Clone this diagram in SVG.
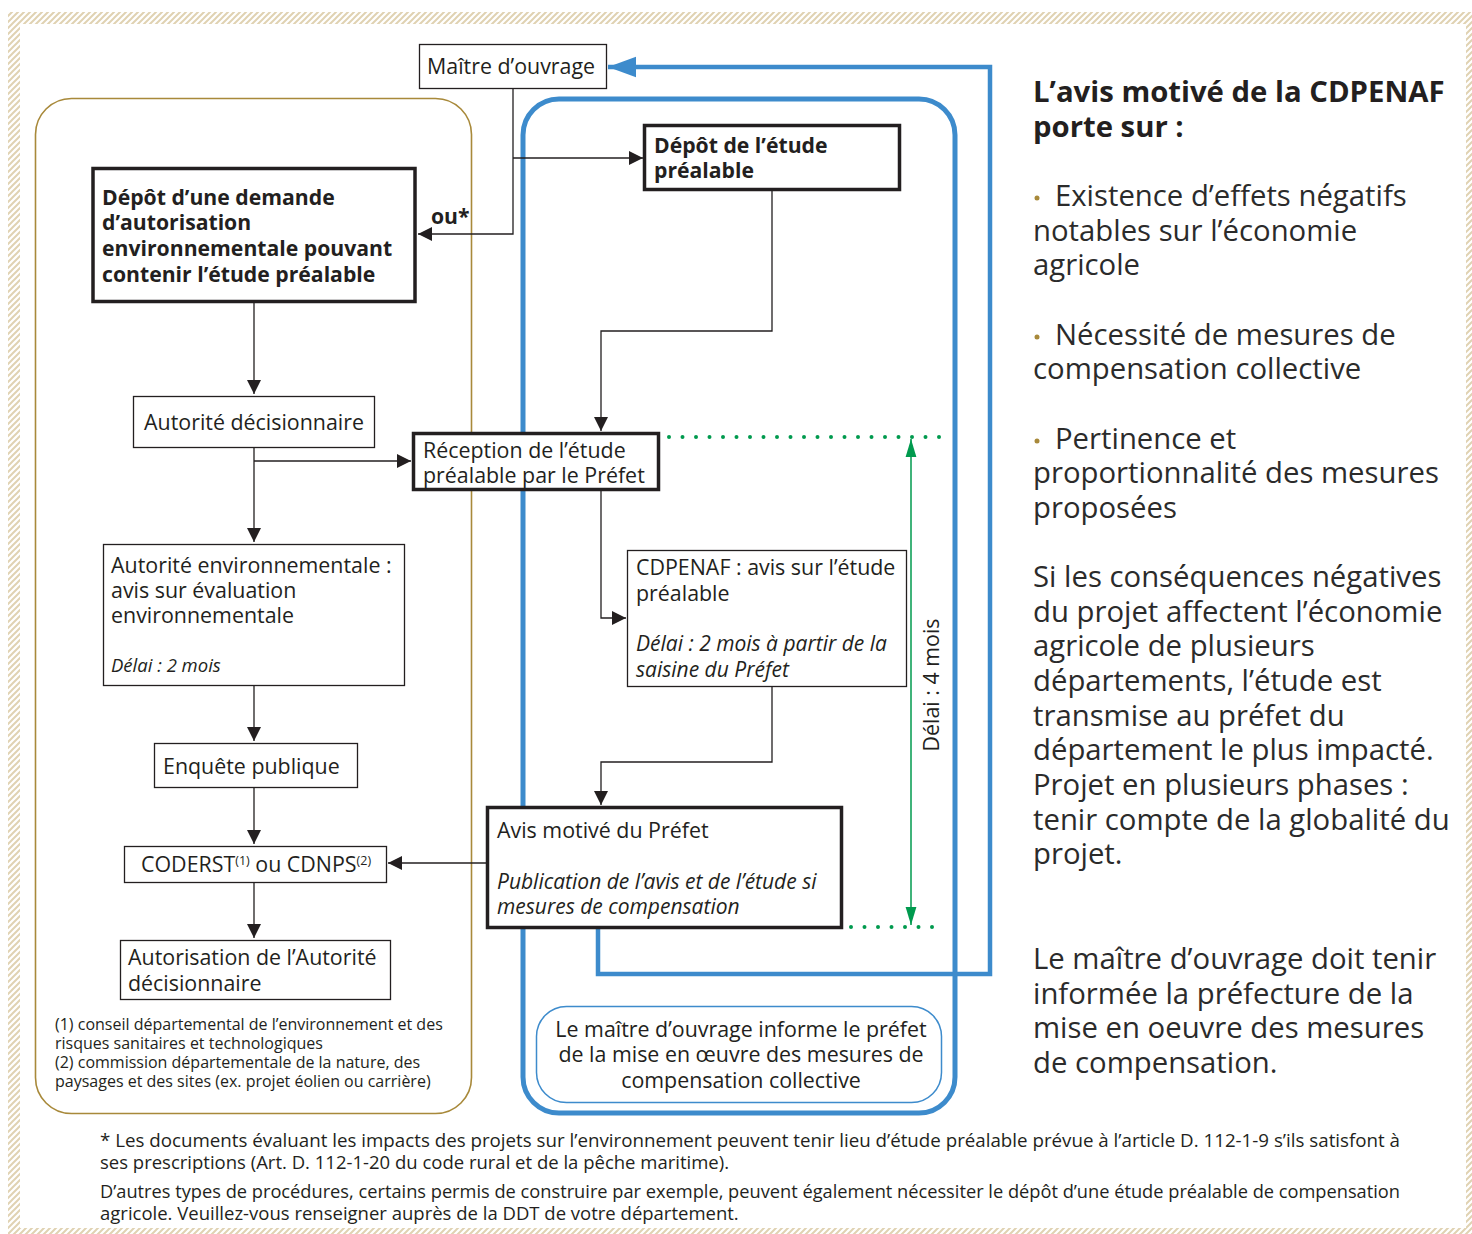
<svg xmlns="http://www.w3.org/2000/svg" width="1472" height="1234" viewBox="0 0 1472 1234">
<defs>
<pattern id="hatch" patternUnits="userSpaceOnUse" width="6" height="6">
<path d="M-1,7 L7,-1 M-4,4 L4,-4 M2,10 L10,2" stroke="#e0d2b2" stroke-width="2"/>
</pattern>
<marker id="ah" viewBox="0 0 10 10" refX="10" refY="5" markerWidth="14" markerHeight="14" markerUnits="userSpaceOnUse" orient="auto">
<path d="M0,0 L10,5 L0,10 Z" fill="#231f20"/>
</marker>
<marker id="ag" viewBox="0 0 10 10" refX="10" refY="5" markerWidth="18" markerHeight="18" markerUnits="userSpaceOnUse" orient="auto">
<path d="M0,2 L10,5 L0,8 Z" fill="#009a4e"/>
</marker>
<marker id="ab" viewBox="0 0 10 10" refX="10" refY="5" markerWidth="28" markerHeight="28" markerUnits="userSpaceOnUse" orient="auto">
<path d="M0,1.3 L10,5 L0,8.7 Z" fill="#3d8bcc"/>
</marker>
</defs>
<style>
text{font-family:"Open Sans","Noto Sans","Liberation Sans",sans-serif;fill:#231f20}
.t20{font-size:21.4px}
.b20{font-size:21.2px;font-weight:bold}
.i18{font-size:21px;font-style:italic}
.i17{font-size:18.5px;font-style:italic}
.s15{font-size:16px}
.s17{font-size:18.5px}
.r28{font-size:29.3px;fill:#2b2b2b}
.rb{font-size:29.3px;font-weight:bold;fill:#231f20}
.dot{fill:#a8893a}
.thin{fill:#fff;stroke:#231f20;stroke-width:1.3}
.thick{fill:#fff;stroke:#231f20;stroke-width:3.5}
.ln{fill:none;stroke:#231f20;stroke-width:1.3}
</style>
<rect width="1472" height="1234" fill="#fff"/>
<path d="M8,12 H1472 V1234 H8 Z M20,24 V1228 H1466 V24 Z" fill="url(#hatch)" fill-rule="evenodd"/>

<g id="groupes">
<rect x="35.5" y="98.5" width="436" height="1015" rx="36" fill="none" stroke="#a8893a" stroke-width="1.6"/>
<rect x="523" y="99" width="432" height="1014" rx="36" fill="none" stroke="#3d8bcc" stroke-width="5"/>
</g>

<g id="connecteurs">
<path class="ln" d="M513,88 V234 H418" marker-end="url(#ah)"/>
<path class="ln" d="M513,158 H643" marker-end="url(#ah)"/>
<path class="ln" d="M772,190 V331 H601 V431" marker-end="url(#ah)"/>
<path class="ln" d="M254,302 V394" marker-end="url(#ah)"/>
<path class="ln" d="M254,448 V542" marker-end="url(#ah)"/>
<path class="ln" d="M254,461 H411" marker-end="url(#ah)"/>
<path class="ln" d="M601,491 V618 H626" marker-end="url(#ah)"/>
<path class="ln" d="M772,686 V762 H601 V805" marker-end="url(#ah)"/>
<path class="ln" d="M254,686 V741" marker-end="url(#ah)"/>
<path class="ln" d="M254,788 V844" marker-end="url(#ah)"/>
<path class="ln" d="M254,882 V938" marker-end="url(#ah)"/>
<path class="ln" d="M487,863 H388" marker-end="url(#ah)"/>
<path d="M598,928 V974 H990 V67 H608" fill="none" stroke="#3d8bcc" stroke-width="4.5" marker-end="url(#ab)"/>
<path d="M669,437 H940" fill="none" stroke="#009a4e" stroke-width="4" stroke-linecap="round" stroke-dasharray="0 13.5"/>
<path d="M851,927 H940" fill="none" stroke="#009a4e" stroke-width="4" stroke-linecap="round" stroke-dasharray="0 13.5"/>
<path d="M911,680 V439" fill="none" stroke="#009a4e" stroke-width="1.5" marker-end="url(#ag)"/>
<path d="M911,680 V925" fill="none" stroke="#009a4e" stroke-width="1.5" marker-end="url(#ag)"/>
<text class="t20" transform="translate(939,685) rotate(-90)" text-anchor="middle">Délai : 4 mois</text>
<text class="b20" x="431" y="224">ou*</text>
</g>

<g id="maitre-ouvrage">
<rect class="thin" x="419.5" y="44.5" width="187" height="44"/>
<text class="t20" x="427" y="74">Maître d’ouvrage</text>
</g>

<g id="depot-demande">
<rect class="thick" x="93" y="168.5" width="322" height="133"/>
<text class="b20" x="102" y="205">Dépôt d’une demande</text>
<text class="b20" x="102" y="230">d’autorisation</text>
<text class="b20" x="102" y="256">environnementale pouvant</text>
<text class="b20" x="102" y="282">contenir l’étude préalable</text>
</g>

<g id="depot-etude">
<rect class="thick" x="644.5" y="125.5" width="255" height="64"/>
<text class="b20" x="654" y="153">Dépôt de l’étude</text>
<text class="b20" x="654" y="178">préalable</text>
</g>

<g id="autorite-decisionnaire">
<rect class="thin" x="133.5" y="396.5" width="241" height="51"/>
<text class="t20" x="144" y="430">Autorité décisionnaire</text>
</g>

<g id="reception">
<rect class="thick" x="413.5" y="433.5" width="245" height="56"/>
<text class="t20" x="423" y="458">Réception de l’étude</text>
<text class="t20" x="423" y="483">préalable par le Préfet</text>
</g>

<g id="autorite-env">
<rect class="thin" x="103.5" y="544.5" width="301" height="141"/>
<text class="t20" x="111" y="573">Autorité environnementale :</text>
<text class="t20" x="111" y="598">avis sur évaluation</text>
<text class="t20" x="111" y="623">environnementale</text>
<text class="i17" x="111" y="672">Délai : 2 mois</text>
</g>

<g id="cdpenaf">
<rect class="thin" x="627.5" y="550.5" width="279" height="136"/>
<text class="t20" x="636" y="575">CDPENAF : avis sur l’étude</text>
<text class="t20" x="636" y="601">préalable</text>
<text class="i18" x="636" y="651">Délai : 2 mois à partir de la</text>
<text class="i18" x="636" y="677">saisine du Préfet</text>
</g>

<g id="enquete">
<rect class="thin" x="154.5" y="743.5" width="203" height="44"/>
<text class="t20" x="163" y="774">Enquête publique</text>
</g>

<g id="avis-prefet">
<rect class="thick" x="487.5" y="807.5" width="354" height="120"/>
<text class="t20" x="497" y="838">Avis motivé du Préfet</text>
<text class="i18" x="497" y="889">Publication de l’avis et de l’étude si</text>
<text class="i18" x="497" y="914">mesures de compensation</text>
</g>

<g id="coderst">
<rect class="thin" x="124.5" y="846.5" width="262" height="36"/>
<text class="t20" x="141" y="872">CODERST<tspan font-size="12.5" dy="-7">(1)</tspan><tspan dy="7"> ou CDNPS</tspan><tspan font-size="12.5" dy="-7">(2)</tspan></text>
</g>

<g id="autorisation">
<rect class="thin" x="120.5" y="940.5" width="270" height="59"/>
<text class="t20" x="128" y="965">Autorisation de l’Autorité</text>
<text class="t20" x="128" y="991">décisionnaire</text>
</g>

<g id="notes-gauche">
<text class="s15" x="55" y="1030">(1) conseil départemental de l’environnement et des</text>
<text class="s15" x="55" y="1049">risques sanitaires et technologiques</text>
<text class="s15" x="55" y="1068">(2) commission départementale de la nature, des</text>
<text class="s15" x="55" y="1087">paysages et des sites (ex. projet éolien ou carrière)</text>
</g>

<g id="information-prefet">
<rect x="536.5" y="1006.5" width="405" height="96" rx="30" fill="#fff" stroke="#3d8bcc" stroke-width="1.5"/>
<text class="t20" x="741" y="1037" text-anchor="middle">Le maître d’ouvrage informe le préfet</text>
<text class="t20" x="741" y="1062" text-anchor="middle">de la mise en œuvre  des mesures de</text>
<text class="t20" x="741" y="1088" text-anchor="middle">compensation collective</text>
</g>

<g id="texte-droite">
<text class="rb" x="1033" y="102">L’avis motivé de la CDPENAF</text>
<text class="rb" x="1033" y="137">porte sur :</text>
<circle class="dot" cx="1037" cy="198" r="2.5"/>
<text class="r28" x="1055" y="206">Existence d’effets négatifs</text>
<text class="r28" x="1033" y="241">notables sur l’économie</text>
<text class="r28" x="1033" y="275">agricole</text>
<circle class="dot" cx="1037" cy="337" r="2.5"/>
<text class="r28" x="1055" y="345">Nécessité de mesures de</text>
<text class="r28" x="1033" y="379">compensation collective</text>
<circle class="dot" cx="1037" cy="441" r="2.5"/>
<text class="r28" x="1055" y="449">Pertinence et</text>
<text class="r28" x="1033" y="483">proportionnalité des mesures</text>
<text class="r28" x="1033" y="518">proposées</text>
<text class="r28" x="1033" y="587">Si les conséquences négatives</text>
<text class="r28" x="1033" y="622">du projet affectent l’économie</text>
<text class="r28" x="1033" y="656">agricole de plusieurs</text>
<text class="r28" x="1033" y="691">départements, l’étude est</text>
<text class="r28" x="1033" y="726">transmise au préfet du</text>
<text class="r28" x="1033" y="760">département le plus impacté.</text>
<text class="r28" x="1033" y="795">Projet en plusieurs phases :</text>
<text class="r28" x="1033" y="830">tenir compte de la globalité du</text>
<text class="r28" x="1033" y="864">projet.</text>
<text class="r28" x="1033" y="969">Le maître d’ouvrage doit tenir</text>
<text class="r28" x="1033" y="1004">informée la préfecture de la</text>
<text class="r28" x="1033" y="1038">mise en oeuvre des mesures</text>
<text class="r28" x="1033" y="1073">de compensation.</text>
</g>

<g id="notes-bas">
<text class="s17" x="100" y="1147" textLength="1300" lengthAdjust="spacingAndGlyphs">* Les documents évaluant les impacts des projets sur l’environnement peuvent tenir lieu d’étude préalable prévue à l’article D. 112-1-9 s’ils satisfont à</text>
<text class="s17" x="100" y="1169">ses prescriptions (Art. D. 112-1-20 du code rural et de la pêche maritime).</text>
<text class="s17" x="100" y="1198" textLength="1300" lengthAdjust="spacingAndGlyphs">D’autres types de procédures, certains permis de construire par exemple, peuvent également nécessiter le dépôt d’une étude préalable de compensation</text>
<text class="s17" x="100" y="1220">agricole. Veuillez-vous renseigner auprès de la DDT de votre département.</text>
</g>
</svg>
